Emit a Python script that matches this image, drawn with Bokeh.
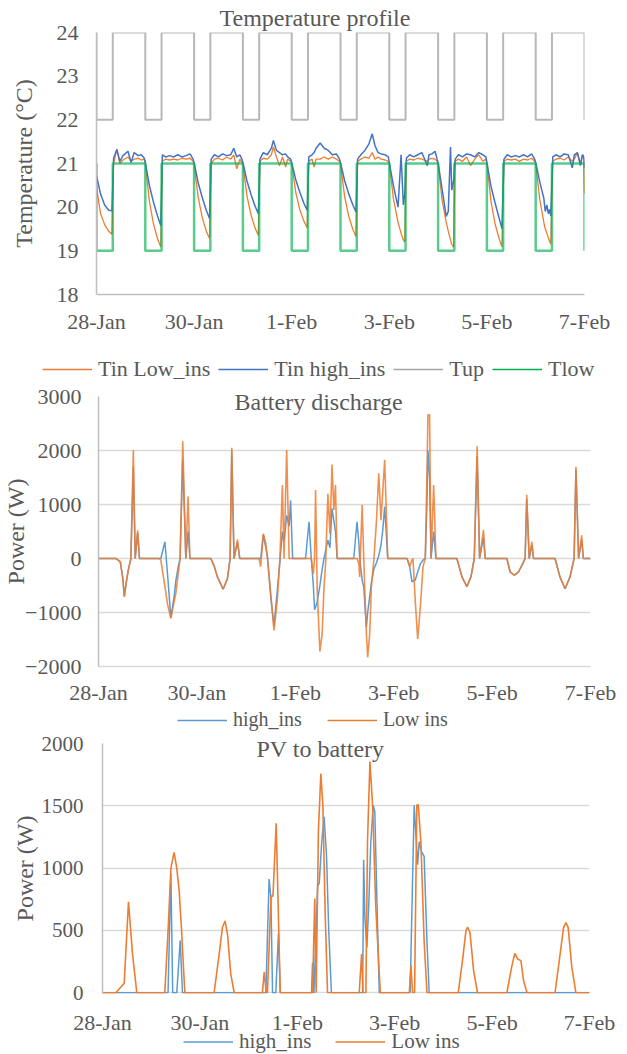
from bokeh.plotting import figure
from bokeh.layouts import column
from bokeh.models import Range1d, FixedTicker, Legend, LegendItem, Title
from bokeh.embed import file_html
from bokeh.resources import INLINE

FONT = "Liberation Serif"
TXT = "#595959"

# ---------------- data (x in hours since 28-Jan 00:00) ----------------
tick_hours = [0, 48, 96, 144, 192, 240]
tick_labels = ["28-Jan", "30-Jan", "1-Feb", "3-Feb", "5-Feb", "7-Feb"]

# set-point schedule (step changes)
sched_t = [0, 0, 8, 24, 32, 48, 56, 72, 80, 96, 104, 120, 128, 144, 152, 168, 176, 192, 200, 216, 224, 240]
tup = [24, 22, 24, 22, 24, 22, 24, 22, 24, 22, 24, 22, 24, 22, 24, 22, 24, 22, 24, 22, 24, 22]
tlow = [21, 19, 21, 19, 21, 19, 21, 19, 21, 19, 21, 19, 21, 19, 21, 19, 21, 19, 21, 19, 21, 19]

# indoor temperature, per day: hour of day, low_ins, high_ins
tin_hours = [
    [0, 2, 4, 6, 7.6, 8.4, 10, 11.5, 13, 15.5, 17, 18.5, 20.5, 22, 23.5],
    [0, 2, 4, 6, 7.6, 8.4, 10, 12, 14, 16, 18, 20, 22, 23.5],
    [0, 2, 4, 6, 7.6, 8.4, 10, 12, 14, 16, 18, 19.5, 21, 22.5, 23.5],
    [0, 2, 4, 6, 7.6, 8.4, 10, 12, 14, 15, 16.5, 18, 19.5, 21, 22, 23.5],
    [0, 2, 4, 6, 7.6, 8.4, 10, 11, 12, 14, 16, 18, 20, 22, 23.5],
    [0, 2, 4, 6, 7.6, 8.4, 10, 12, 14, 15.6, 17, 18.5, 20, 22, 23.5],
    [0, 2, 4.3, 5.8, 6.9, 7.6, 8.4, 10, 12, 14, 16, 18.7, 19.5, 21, 22.5, 23.5],
    [0, 2, 4, 5, 6.1, 6.7, 7.6, 8.4, 10, 12, 14, 16, 18, 20, 22, 23.5],
    [0, 2, 4, 6, 7.4, 8.4, 10, 12, 14, 16, 18, 20, 22, 23.5],
    [0, 2, 4, 4.7, 5.5, 6.2, 6.8, 7.4, 8.4, 10, 12, 14, 16, 18, 19, 20.5, 22, 23, 23.7],
    [0],
]
tin_low = [
    [20.45, 19.85, 19.6, 19.45, 19.38, 21.0, 21.33, 21.0, 21.08, 21.15, 21.05, 21.1, 21.12, 21.08, 21.1],
    [21.0, 20.14, 19.62, 19.28, 19.09, 21.05, 21.1, 21.08, 21.1, 21.08, 21.12, 21.1, 21.12, 21.05],
    [21.0, 20.23, 19.76, 19.45, 19.28, 21.0, 21.1, 21.12, 21.08, 21.15, 21.1, 21.2, 20.88, 21.1, 21.02],
    [21.0, 20.26, 19.82, 19.52, 19.36, 21.05, 21.12, 21.1, 21.2, 21.38, 21.15, 20.95, 21.15, 20.92, 21.1, 21.05],
    [21.0, 20.34, 19.94, 19.68, 19.53, 21.05, 21.1, 20.92, 21.1, 21.1, 21.15, 21.1, 21.15, 21.1, 21.05],
    [21.0, 20.25, 19.8, 19.5, 19.33, 21.05, 21.1, 21.15, 21.12, 21.25, 21.1, 21.15, 21.1, 21.08, 21.05],
    [21.0, 20.2, 19.65, 19.4, 19.25, 19.2, 21.05, 21.1, 21.08, 21.12, 21.1, 21.05, 21.1, 21.12, 21.1, 21.05],
    [21.0, 20.15, 19.65, 19.45, 19.25, 19.15, 19.08, 21.05, 21.1, 21.05, 21.15, 20.95, 21.1, 21.2, 21.05, 21.1],
    [21.0, 20.14, 19.62, 19.28, 19.09, 21.05, 21.1, 21.08, 21.1, 21.05, 21.1, 21.08, 21.12, 21.05],
    [21.0, 20.17, 19.65, 19.5, 19.4, 19.3, 19.22, 19.15, 21.05, 21.1, 21.12, 21.08, 21.15, 21.05, 21.1, 21.25, 21.0, 21.2, 21.1],
    [20.3],
]
tin_high = [
    [20.72, 20.3, 20.05, 19.93, 19.92, 21.12, 21.32, 21.05, 21.18, 21.28, 21.02, 21.25, 21.18, 21.2, 21.12],
    [21.02, 20.5, 20.12, 19.8, 19.58, 21.2, 21.15, 21.18, 21.15, 21.2, 21.15, 21.18, 21.22, 21.1],
    [21.02, 20.56, 20.22, 19.93, 19.74, 21.1, 21.2, 21.15, 21.22, 21.18, 21.2, 21.35, 21.15, 21.2, 21.1],
    [21.02, 20.6, 20.29, 20.02, 19.85, 21.1, 21.25, 21.2, 21.35, 21.53, 21.3, 21.25, 21.2, 21.22, 21.15, 21.1],
    [21.02, 20.63, 20.34, 20.09, 19.93, 21.15, 21.2, 21.25, 21.35, 21.47, 21.35, 21.3, 21.2, 21.22, 21.1],
    [21.02, 20.61, 20.31, 20.06, 19.89, 21.1, 21.2, 21.3, 21.45, 21.68, 21.4, 21.25, 21.22, 21.2, 21.15],
    [21.02, 20.5, 20.0, 21.2, 20.05, 20.3, 21.12, 21.2, 21.15, 21.2, 21.25, 20.95, 21.2, 21.22, 21.28, 21.1],
    [21.02, 20.4, 19.79, 19.9, 21.38, 20.39, 20.6, 21.1, 21.2, 21.15, 21.22, 21.2, 21.15, 21.25, 21.2, 21.15],
    [21.02, 20.48, 20.1, 19.75, 19.51, 21.1, 21.2, 21.15, 21.18, 21.15, 21.2, 21.15, 21.22, 21.1],
    [21.02, 20.58, 20.2, 19.9, 20.05, 19.85, 19.95, 19.8, 21.15, 21.2, 21.15, 21.22, 21.2, 20.9, 21.2, 21.25, 20.95, 21.2, 21.15],
    [20.9],
]

# battery discharge (W), per day: absolute hour, Low ins, high_ins
bat_hours = [
    [0, 8.5, 10.6, 11.8, 12.6, 13.5, 14.5, 15.8, 17.0, 17.9, 19.1, 20.0],
    [29.6, 30.4, 32.4, 33.7, 35.3, 36.9, 37.7, 38.9, 39.8, 41.1, 42.6, 43.7, 44.6],
    [54.8, 56.5, 58.0, 60.8, 62.9, 64.2, 65.0, 66.1, 67.8, 68.9],
    [78.3, 79.1, 80.4, 81.6, 82.4, 84.0, 85.6, 87.2, 88.5, 89.7, 90.5, 91.8, 93.0, 93.7, 94.7],
    [101.0, 102.7, 103.8, 104.8, 105.4, 105.9, 106.7, 108.0, 109.1, 110.0, 110.8, 111.9, 112.9, 113.9, 114.8, 115.6, 116.4],
    [124.5, 126.1, 127.0, 127.4, 128.6, 129.4, 130.2, 130.7, 131.3, 132.3, 133.1, 134.3, 135.6, 136.7, 137.8, 138.6, 139.6, 141.1],
    [150.5, 151.8, 152.9, 153.4, 154.5, 155.7, 157.0, 158.3, 159.4, 160.2, 160.7, 161.5, 162.2, 163.5, 164.6],
    [174.8, 177.3, 179.7, 181.7, 183.3, 184.7, 185.9, 187.8, 188.6],
    [199.2, 200.8, 202.8, 204.9, 207.0, 208.1, 208.9, 210.1, 211.4, 212.2],
    [222.7, 225.1, 227.6, 230.0, 232.0, 232.9, 234.2, 235.7, 236.5, 240],
]
bat_low = [
    [0, 0, -60, -350, -710, -450, -220, 0, 2010, 0, 520, 0],
    [0, -30, -520, -850, -1110, -800, -650, -280, 0, 2170, 0, 1150, 0],
    [0, -150, -340, -570, -370, 0, 2050, 0, 350, 0],
    [0, -150, 460, 280, 0, -650, -1330, -780, 0, 1360, 0, 2010, 0, 0, 0],
    [0, 0, 0, -280, 0, 1270, -600, -1720, -1400, -530, -90, 1200, 460, 1740, 900, 1360, 0],
    [0, 0, -100, -340, 990, 0, -900, -1400, -1830, -1400, -530, -30, 700, 1580, 710, 1200, 1830, 0],
    [0, -150, -30, 0, -780, -1490, -900, -150, 0, 1500, 2660, 2660, 0, 1360, 0],
    [0, -340, -520, -340, 0, 2080, 0, 530, 0],
    [0, -250, -310, -250, -90, 0, 1180, 0, 310, 0],
    [0, -340, -560, -340, 0, 1700, 0, 430, 0, 0],
]
bat_high = [
    [0, 0, -60, -350, -700, -450, -220, 0, 1700, 0, 480, 0],
    [0, 0, 310, -300, -1100, -700, -420, -150, 0, 1830, 0, 500, 0],
    [0, -150, -340, -570, -370, 0, 2000, 0, 300, 0],
    [0, 0, 440, 200, 50, -700, -1250, -600, -50, 500, 300, 800, 600, 1080, 0],
    [0, 680, 0, -500, -950, -900, -800, -500, -200, 0, 150, 340, 200, 930, 700, 500, 0],
    [0, 680, 300, 0, -400, -530, -1000, -1270, -1000, -700, -450, -200, -80, 50, 250, 500, 960, 0],
    [0, -150, -430, -420, -400, -250, -100, -30, 0, 1000, 2000, 1500, 0, 500, 0],
    [0, -340, -520, -340, 0, 1900, 0, 400, 0],
    [0, -250, -310, -250, -90, 0, 1100, 0, 250, 0],
    [0, -340, -560, -340, 0, 1650, 0, 350, 0, 0],
]

# PV to battery (W)
pv_low_t = [0, 6.6, 10.7, 12.8, 14.8, 16.9,
            30.7, 32.4, 33.7, 35.3, 36.6, 37.8, 38.9, 39.9, 40.6,
            55.0, 57.5, 59.1, 60.4, 61.6, 63.2, 64.9,
            78.8, 79.7, 80.7, 81.3, 83.0, 84.0, 85.6, 87.6,
            103.5, 104.6, 105.3, 106.4, 107.6, 108.6, 109.8, 110.9,
            126.5, 127.7, 128.4, 129.8, 130.6, 131.8, 133.1, 134.7, 136.9,
            151.2, 152.0, 152.8, 153.8, 154.9, 155.6, 156.9, 158.5, 159.9,
            175.3, 177.4, 179.1, 179.9, 181.1, 182.9, 184.8,
            199.3, 201.6, 203.2, 204.6, 206.2, 207.5, 209.2,
            223.0, 225.1, 227.2, 228.4, 229.5, 231.3, 233.3, 240]
pv_low = [0, 0, 77, 730, 310, 0,
          0, 523, 1000, 1126, 1000, 815, 523, 204, 0,
          0, 310, 523, 576, 470, 151, 0,
          0, 165, 0, 0, 775, 775, 1360, 0,
          0, 757, 0, 1300, 1758, 1500, 600, 0,
          0, 310, 0, 0, 1213, 1856, 1505, 680, 0,
          0, 218, 0, 0, 1505, 1510, 1213, 417, 0,
          0, 258, 497, 528, 483, 178, 0,
          0, 204, 316, 271, 258, 98, 0,
          0, 258, 523, 563, 523, 204, 0, 0]
pv_high_t = [0, 32.3, 33.7, 34.6, 36.6, 38.3, 39.4,
             80.5, 82.1, 83.0, 83.8, 85.4, 86.7, 87.6,
             103.0, 103.5, 104.0, 104.2, 106.0, 106.8, 108.0, 109.2, 110.4, 111.5, 112.8,
             128.2, 128.7, 129.3, 130.3, 131.2, 132.2, 133.4, 134.2, 135.3, 136.4,
             151.6, 153.6, 155.3, 156.1, 157.2, 158.5, 159.9, 161.0, 240]
pv_high = [0, 0, 960, 0, 0, 420, 0,
           0, 913, 760, 0, 0, 475, 0,
           0, 240, 0, 0, 855, 880, 1200, 1412, 1100, 500, 0,
           0, 1067, 600, 364, 700, 1200, 1505, 1450, 700, 0,
           0, 1505, 1028, 1213, 1134, 1094, 417, 0, 0]


def flat_abs(hours_by_day):
    out = []
    for d, hrs in enumerate(hours_by_day):
        out += [d * 24 + h for h in hrs]
    return out


def flat(lists):
    out = []
    for l in lists:
        out += l
    return out


tin_t = flat_abs(tin_hours)
bat_t = flat(bat_hours)

ORANGE = "#ED7D31"
BLUE1 = "#4472C4"
BLUE2 = "#5B9BD5"
GRAY = "#B8B8B8"
GREEN = "#00B050"


def style_axis(ax, size="22px"):
    ax.axis_line_color = "#BFBFBF"
    ax.axis_line_width = 1.5
    ax.major_tick_line_color = None
    ax.minor_tick_line_color = None
    ax.major_tick_out = 0
    ax.major_tick_in = 0
    ax.major_label_text_font = FONT
    ax.major_label_text_font_size = size
    ax.major_label_text_color = TXT
    ax.axis_label_text_font = FONT
    ax.axis_label_text_font_size = "24px"
    ax.axis_label_text_font_style = "normal"
    ax.axis_label_text_color = TXT


def set_dates(ax):
    ax.ticker = FixedTicker(ticks=tick_hours)
    ax.major_label_overrides = {h: l for h, l in zip(tick_hours, tick_labels)}


def make_fig(height, left, right, top, bottom, y_start, y_end, yticks, ylabel,
             label_standoff, axis_label_standoff, x_standoff, grid, xaxis=True, ysize="22px"):
    p = figure(width=627, height=height, x_range=Range1d(0, 240), y_range=Range1d(y_start, y_end),
               toolbar_location=None, output_backend="svg",
               x_axis_location="below" if xaxis else None,
               min_border_left=left, min_border_right=right, min_border_top=top, min_border_bottom=bottom)
    p.frame_align = False
    p.outline_line_color = None
    p.background_fill_color = "white"
    p.xgrid.visible = False
    if grid:
        p.ygrid.grid_line_color = "#D9D9D9"
        p.ygrid.grid_line_width = 1.5
    else:
        p.ygrid.visible = False
    p.yaxis.ticker = FixedTicker(ticks=yticks)
    p.yaxis.axis_label = ylabel
    style_axis(p.yaxis[0], ysize)
    p.yaxis.major_label_standoff = label_standoff
    p.yaxis.axis_label_standoff = axis_label_standoff
    if xaxis:
        set_dates(p.xaxis[0])
        style_axis(p.xaxis[0])
        p.xaxis.major_label_standoff = x_standoff
        if grid:
            p.xaxis.axis_line_color = "#D9D9D9"
    return p


def add_title(p, text, offset, standoff):
    p.add_layout(Title(text=text, align="left", offset=offset, standoff=standoff,
                       text_font=FONT, text_font_size="24px", text_font_style="normal",
                       text_color=TXT), "above")


def legend_strip(height, entries, x, y, spacing, key_h, font, left=0, right=0, top=0, axis_standoff=None):
    # a strip that holds a legend (and optionally the date axis of the panel above);
    # its keys repeat the series of that panel, which lie outside this strip's y range
    q = figure(width=627, height=height, x_range=Range1d(0, 240), y_range=Range1d(-1e6, -1e5),
               toolbar_location=None, output_backend="svg",
               x_axis_location="above" if axis_standoff is not None else None, y_axis_location=None,
               min_border_left=left, min_border_right=right, min_border_top=top, min_border_bottom=0)
    q.frame_align = False
    q.outline_line_color = None
    q.xgrid.visible = False
    q.ygrid.visible = False
    if axis_standoff is not None:
        ax = q.xaxis[0]
        set_dates(ax)
        style_axis(ax)
        ax.axis_line_color = None
        ax.major_label_standoff = axis_standoff
    items = []
    for label, xs, ys, color, width, alpha in entries:
        r = q.line(xs, ys, line_color=color, line_width=width, line_alpha=alpha)
        items.append(LegendItem(label=label, renderers=[r]))
    leg = Legend(items=items, orientation="horizontal", location=(x, y), border_line_color=None,
                 background_fill_alpha=0, padding=0, margin=0, spacing=spacing,
                 glyph_width=50, glyph_height=key_h, label_height=key_h, label_standoff=6,
                 label_text_font=FONT, label_text_font_size=font, label_text_color=TXT)
    q.add_layout(leg)
    return q


# ---------------- panel 1 (0 - 344 px) ----------------
p1 = make_fig(344, 96, 43, 32, 50, 18, 24, [18, 19, 20, 21, 22, 23, 24], "Temperature (°C)",
              18, 17, 14, False)
add_title(p1, "Temperature profile", 123, 4)
p1.step(sched_t, tup, mode="after", line_color=GRAY, line_width=2)
p1.line(tin_t, flat(tin_low), line_color=ORANGE, line_width=1.3)
p1.line(tin_t, flat(tin_high), line_color=BLUE1, line_width=1.5)
p1.step(sched_t, tlow, mode="after", line_color=GREEN, line_width=2.5, line_alpha=0.65)

# legend strip 1 (344 - 383 px)
leg1 = legend_strip(39, [("Tin Low_ins", tin_t, flat(tin_low), ORANGE, 1.5, 1),
                         ("Tin high_ins", tin_t, flat(tin_high), BLUE1, 1.5, 1),
                         ("Tup", sched_t, tup, "#A5A5A5", 1.5, 1),
                         ("Tlow", sched_t, tlow, GREEN, 1.5, 1)], 42, 1, 8, 24, "22px")

# ---------------- panel 2 (383 - 708 px) ----------------
p2 = make_fig(325, 97, 37, 13, 42, -2000, 3000, [-2000, -1000, 0, 1000, 2000, 3000], "Power (W)",
              17, -7, 13, True)
add_title(p2, "Battery discharge", 136, -36)
p2.line(bat_t, flat(bat_high), line_color=BLUE2, line_width=1.5)
p2.line(bat_t, flat(bat_low), line_color=ORANGE, line_width=1.6, line_alpha=0.85)

# legend strip 2 (708 - 731 px)
leg2 = legend_strip(23, [("high_ins", bat_t, flat(bat_high), BLUE2, 1.5, 1),
                         ("Low ins", bat_t, flat(bat_low), ORANGE, 1.5, 1)], 177, 0, 25, 22, "20px")

# ---------------- panel 3 (731 - 1005 px) ----------------
p3 = make_fig(274, 102, 38, 12, 12, -6, 2000, [0, 500, 1000, 1500, 2000], "Power (W)",
              19, 1, 0, True, xaxis=False, ysize="21px")
add_title(p3, "PV to battery", 154, -36)
p3.line(pv_high_t, pv_high, line_color=BLUE2, line_width=1.5)
p3.line(pv_low_t, pv_low, line_color=ORANGE, line_width=1.6)

# strip 3 (1005 - 1054 px): date labels of panel 3 and its legend
leg3 = legend_strip(49, [("high_ins", pv_high_t, pv_high, BLUE2, 1.5, 1),
                         ("Low ins", pv_low_t, pv_low, ORANGE, 1.5, 1)], 81, 0, 24, 23, "21px",
                    left=102, right=38, top=25, axis_standoff=-4)

layout = column(p1, leg1, p2, leg2, p3, leg3, spacing=0)
open("out.html", "w").write(file_html(layout, INLINE))
